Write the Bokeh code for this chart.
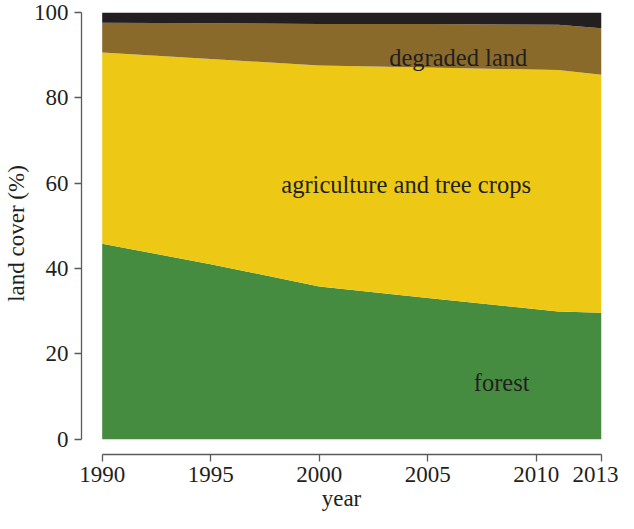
from bokeh.plotting import figure
from bokeh.models import ColumnDataSource, Range1d, FixedTicker
from bokeh.core.properties import value
from bokeh.embed import file_html
from bokeh.resources import INLINE

# data (percent of land cover)
years = [1990, 1995, 2000, 2005, 2011, 2013]
forest = [45.8, 41.0, 35.8, 33.1, 29.9, 29.6]
agriculture = [44.8, 48.1, 51.8, 54.0, 56.6, 55.8]
degraded = [7.0, 8.4, 9.7, 10.2, 10.6, 10.9]
other = [2.4, 2.5, 2.7, 2.7, 2.9, 3.7]

x_ticks = [1990, 1995, 2000, 2005, 2010, 2013]
y_ticks = [0, 20, 40, 60, 80, 100]

labels = ["forest", "agriculture and tree crops", "degraded land"]
label_x = [2008.4, 2004.0, 2006.4]
label_y = [13.3, 59.6, 89.5]

FONT = "Liberation Serif"
TXT = "#231f20"
AX = "#5a5a5a"

src = ColumnDataSource(dict(year=years, forest=forest, agriculture=agriculture,
                            degraded=degraded, other=other))

p = figure(width=618, height=513, output_backend="svg", toolbar_location=None,
           x_range=Range1d(1989.047, 2013), y_range=Range1d(-3.6, 100),
           min_border_left=73, min_border_right=17, min_border_top=12, min_border_bottom=50)

p.varea_stack(["forest", "agriculture", "degraded", "other"], x="year", source=src,
              color=["#458c41", "#edc915", "#8a6a2b", "#231f20"])

p.text(x=label_x, y=label_y, text=labels, text_font=value(FONT), text_font_size="24.5px",
       text_color=TXT, text_align="center", text_baseline="alphabetic")

p.outline_line_color = None
p.grid.visible = False
p.background_fill_color = "white"

for ax in (p.xaxis[0], p.yaxis[0]):
    ax.axis_line_color = AX
    ax.axis_line_width = 1.3
    ax.major_tick_line_color = AX
    ax.major_tick_line_width = 1.3
    ax.major_tick_out = 7
    ax.major_tick_in = 0
    ax.minor_tick_line_color = None
    ax.major_label_text_font = FONT
    ax.major_label_text_font_size = "23px"
    ax.major_label_text_color = TXT
    ax.axis_label_text_font = FONT
    ax.axis_label_text_font_size = "23px"
    ax.axis_label_text_font_style = "normal"
    ax.axis_label_text_color = TXT

p.xaxis[0].bounds = (1990, 2013)
p.xaxis[0].ticker = FixedTicker(ticks=x_ticks)
p.xaxis[0].axis_label = "year"
p.xaxis[0].major_label_standoff = 5
p.xaxis[0].axis_label_standoff = 1

p.yaxis[0].bounds = (0, 100)
p.yaxis[0].ticker = FixedTicker(ticks=y_ticks)
p.yaxis[0].axis_label = "land cover (%)"
p.yaxis[0].major_label_standoff = 6
p.yaxis[0].axis_label_standoff = 2

open("out.html", "w").write(file_html(p, INLINE))
